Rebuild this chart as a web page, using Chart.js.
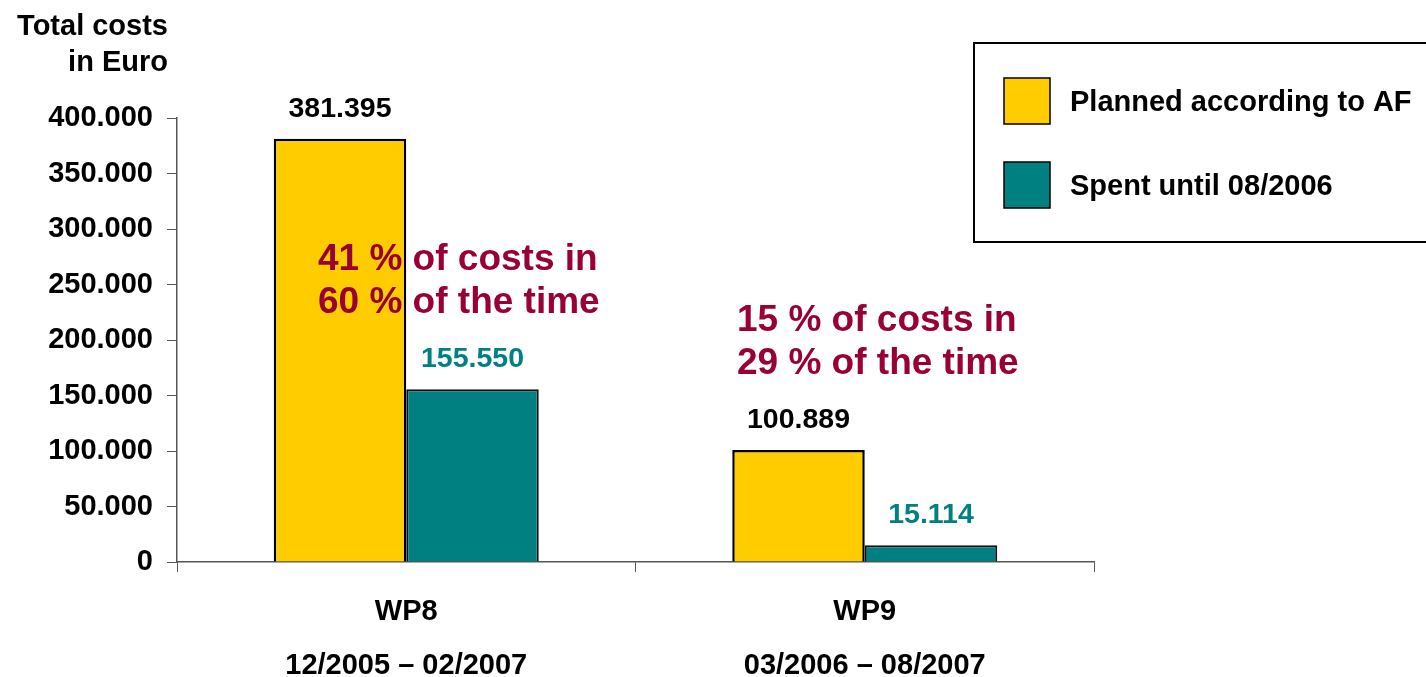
<!DOCTYPE html>
<html>
<head>
<meta charset="utf-8">
<script src="https://cdn.jsdelivr.net/npm/chart.js@4.4.0/dist/chart.umd.min.js"></script>
<style>
  html, body { margin: 0; padding: 0; background: #fff; }
  #wrap { width: 1426px; height: 677px; }
</style>
</head>
<body>
<div id="wrap"><canvas id="costs-chart" width="1426" height="677"></canvas></div>
<script>
const categories = ['WP8', 'WP9'];
const periods = ['12/2005 – 02/2007', '03/2006 – 08/2007'];
const plannedCosts = [381395, 100889];
const spentCosts = [155550, 15114];
const seriesNames = ['Planned according to AF', 'Spent until 08/2006'];
const notes = [
  ['41 % of costs in', '60 % of the time'],
  ['15 % of costs in', '29 % of the time'],
];

const YELLOW = '#FFCC00';
const TEAL = '#008080';
const NOTE_RED = '#990033';
const FONT = '"Liberation Sans", Arial, sans-serif';

const fmt = v => v === 0 ? '0' : v.toLocaleString('de-DE');

const overlay = {
  id: 'overlay',
  afterDraw(chart) {
    const { ctx } = chart;
    ctx.save();

    // axis title
    ctx.font = `bold 29px ${FONT}`;
    ctx.fillStyle = '#000';
    ctx.textAlign = 'right';
    ctx.textBaseline = 'middle';
    ctx.fillText('Total costs', 168, 27);
    ctx.fillText('in Euro', 168, 63);

    // value labels above bars
    ctx.font = `bold 28.5px ${FONT}`;
    ctx.textAlign = 'center';
    chart.data.datasets.forEach((ds, di) => {
      chart.getDatasetMeta(di).data.forEach((bar, i) => {
        ctx.fillStyle = di === 0 ? '#000' : TEAL;
        ctx.fillText(fmt(ds.data[i]), bar.x, bar.y - 30);
      });
    });

    // notes
    ctx.font = `bold 37px ${FONT}`;
    ctx.fillStyle = NOTE_RED;
    ctx.textAlign = 'left';
    const notePos = [[318, 260], [737, 321]];
    notes.forEach((lines, i) => {
      lines.forEach((t, j) => ctx.fillText(t, notePos[i][0], notePos[i][1] + j * 43));
    });

    // legend box
    ctx.strokeStyle = '#000';
    ctx.lineWidth = 2;
    ctx.strokeRect(974, 43, 470, 199);
    ctx.font = `bold 29px ${FONT}`;
    chart.data.datasets.forEach((ds, di) => {
      const y = 78 + di * 84;
      ctx.fillStyle = ds.backgroundColor;
      ctx.fillRect(1004, y, 46, 46);
      ctx.lineWidth = 1.5;
      ctx.strokeRect(1004, y, 46, 46);
      ctx.fillStyle = '#000';
      ctx.fillText(ds.label, 1070, y + 25);
    });

    ctx.restore();
  },
};

new Chart(document.getElementById('costs-chart'), {
  type: 'bar',
  data: {
    labels: categories.map((c, i) => [c, '', periods[i]]),
    datasets: [
      { label: seriesNames[0], data: plannedCosts, backgroundColor: YELLOW, borderColor: '#000', borderWidth: 2.5 },
      { label: seriesNames[1], data: spentCosts, backgroundColor: TEAL, borderColor: '#111', borderWidth: 2 },
    ],
  },
  options: {
    responsive: false,
    animation: false,
    events: [],
    layout: { padding: { left: 0, top: 118, right: 332, bottom: 0 } },
    datasets: { bar: { categoryPercentage: 0.578, barPercentage: 1 } },
    plugins: { legend: { display: false }, tooltip: { enabled: false } },
    scales: {
      x: {
        afterFit: s => { s.height = 115; },
        grid: { offset: true, drawOnChartArea: false, drawTicks: true, tickLength: 10, color: '#555', lineWidth: 1 },
        border: { color: '#555', width: 1.5 },
        ticks: { color: '#000', font: { family: FONT, size: 29, weight: 'bold', lineHeight: 0.92 }, padding: 27, maxRotation: 0 },
      },
      y: {
        min: 0,
        max: 400000,
        afterFit: s => { s.width = 177; },
        grid: { drawOnChartArea: false, drawTicks: true, tickLength: 10, color: '#555' },
        border: { color: '#555', width: 1.5 },
        ticks: { stepSize: 50000, color: '#000', padding: 14, callback: v => fmt(v), font: { family: FONT, size: 29, weight: 'bold' } },
      },
    },
  },
  plugins: [overlay],
});
</script>
</body>
</html>
